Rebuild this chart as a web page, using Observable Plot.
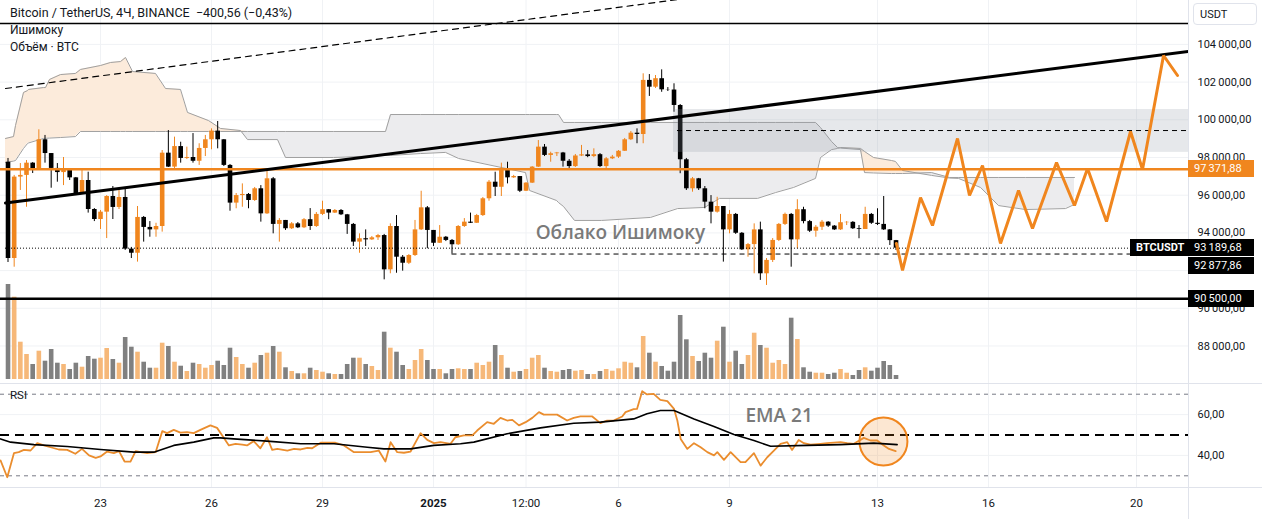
<!DOCTYPE html>
<html><head><meta charset="utf-8">
<script src="https://cdn.jsdelivr.net/npm/d3@7"></script>
<script src="https://cdn.jsdelivr.net/npm/@observablehq/plot@0.6"></script>
<style>
body{margin:0;background:#fff;}
#wrap{position:relative;width:1262px;height:519px;overflow:hidden;background:#fff;font-family:Roboto,"Liberation Sans",sans-serif;color:#131722;}
#wrap svg{position:absolute;left:0;}
.t{position:absolute;white-space:pre;line-height:16px;}
.box{position:absolute;height:17px;line-height:17px;font-size:11px;color:#fff;padding-left:6px;box-sizing:border-box;white-space:pre;}
.sep{position:absolute;background:#e0e3eb;}
</style></head>
<body><div id="wrap"></div>
<script>
// ---------- axes ----------
const xDomain = [0.297, 32.405];           // days since 20 Dec 2024 00:00
const xTickDays = [3, 6, 9, 12, 14.5, 17, 20, 24, 27, 31];
const xTickLabels = ["23", "26", "29", "2025", "12:00", "6", "9", "13", "16", "20"];
const priceTicks = [88000, 90000, 92000, 94000, 96000, 98000, 100000, 102000, 104000];
const priceTickLabelsShown = [88000, 90000, 94000, 96000, 98000, 100000, 102000, 104000];
const rsiTicks = [40, 60];
const priceDomain = [86010, 106329];
const rsiDomain = [24.27, 75.25];

// ---------- candles (4h, starting 20 Dec 12:00) ----------
const barStartDay = 0.5, barHours = 4;
const firstOpen = 97750;
const closeP = [92640,96960,97050,97700,97360,98940,98210,97420,97200,97310,
96920,96090,96780,95240,94710,95100,95930,95350,95880,93140,
92920,94820,94290,94160,94340,98230,97490,98580,97950,98000,
97800,98480,98940,99400,98940,97580,95580,95980,96040,95720,
96340,95010,96870,94450,94660,94220,94480,94270,94700,94340,
94980,95230,95050,95190,94960,94450,93510,93690,93630,93740,
93860,92040,94340,92710,92390,92800,94160,95330,94130,93450,
93770,93600,93370,94340,94570,94510,94920,95810,96690,96420,
97310,96920,96990,96210,96640,97490,98550,98110,98200,98240,
97800,97520,98080,98140,98050,98150,97520,97930,98020,98330,
98940,99290,99220,102090,101730,102180,101590,101580,100760,97880,
96340,96870,96340,95630,95100,95400,94160,94980,93980,93100,
93380,94160,91830,92540,93600,94450,94980,93630,95230,94600,
94090,94300,94570,94360,94160,94540,94560,94220,94180,94980,
94510,94450,94160,93590,93189.68];
const highP = [97950,97050,97680,97840,97730,99470,99170,98210,97680,98000,
97310,96940,97310,97220,95290,95190,95980,96460,96300,96300,
93230,95400,94870,94600,94510,98370,99430,99080,98810,98550,
99270,98730,99170,99520,99910,98950,97630,96090,96600,96090,
96410,96510,97400,96940,94760,94660,94550,94550,94760,95290,
95080,95680,95240,95240,95240,94980,94500,93950,94160,93810,
93920,93920,94480,94920,92800,92850,94660,96210,95400,94130,
94390,93810,93650,94390,94760,95050,94980,95880,96780,97220,
97700,97750,97050,96990,96670,97520,98900,98690,98280,98270,
98270,97890,98160,98640,98370,98460,98210,98000,98110,98370,
99010,99380,99520,102440,102400,102350,102650,101710,101910,100810,
97950,96940,96890,96460,95980,95890,95400,95190,95030,94020,
93440,94480,94570,92640,93700,94500,95050,95030,95760,95360,
94660,94390,94660,94600,94390,94980,94600,94600,94390,95360,
95030,95280,95930,94180,93600];
const lowP = [92430,92180,96250,95360,97150,97310,97700,96370,96690,96510,
96780,95980,96090,95050,94600,94180,93700,94710,95240,93070,
92640,92450,93510,93770,93770,94040,97470,97310,97700,97890,
97700,97580,98050,98410,98460,97520,95150,95280,95360,95280,
95670,94570,94980,93950,93510,94130,94180,94230,94230,94130,
94290,94920,94700,95030,94920,93920,93280,92920,93280,93600,
93600,91510,91830,91860,91970,92320,92750,94130,93160,93280,
93440,93540,92877.86,93330,94290,94500,94500,94870,95680,95930,
95930,96600,96890,96140,96200,96620,97470,98050,97750,98050,
97490,97420,97470,98050,97990,97990,97470,97310,97890,97950,
98320,98900,98730,98730,101240,101660,101460,101500,100400,97140,
96250,96160,96250,95280,94480,95050,92450,93950,93920,93070,
92710,91830,91480,91210,92430,93540,94390,92180,93160,94480,
94020,93770,94130,94290,94130,94130,94390,94180,93690,94180,
94450,94390,94130,93330,93070];
const volumeBTC = [9500,8230,3730,2500,1500,2830,1830,3000,1630,1500,
1000,1630,1230,2300,2030,2130,3100,2000,1630,4200,
3230,2730,1730,1130,1130,3630,3300,1730,1330,800,
1630,1500,1130,1400,1830,1400,3130,2200,1500,1130,
1630,2400,2630,3300,2730,1170,800,570,570,1130,
900,730,570,500,500,1500,2130,2130,1500,1300,
900,4730,3130,2730,1400,1000,1900,3000,1900,1000,
1000,570,1000,1070,1000,1000,1630,1400,1730,3400,
2400,1130,730,800,1000,2130,2400,1130,800,730,
900,1000,830,900,500,500,800,1000,830,1070,
1730,1630,1170,4300,2630,1730,1300,830,1730,6400,
3970,2300,1800,2630,2130,3830,5230,1730,2830,1500,
2400,4630,3400,3130,1630,1900,1500,6130,4000,1170,
730,630,630,500,630,1000,630,400,900,1170,
830,1130,1800,1400,400];

// ---------- Ichimoku cloud (leading spans) ----------
const cloudDay = [0.432,0.649,0.703,0.919,1.027,1.054,1.459,1.514,1.622,1.919,2.324,2.459,3.0,3.270,3.541,3.676,3.865,4.486,4.757,5.162,5.351,5.919,6.243,6.784,6.973,7.784,8.0,9.297,10.703,10.838,11.649,12.324,12.676,14.486,14.595,15.324,15.378,15.514,15.811,16.541,17.865,18.595,19.324,19.730,20.757,21.243,21.730,22.324,22.459,22.757,22.919,23.0,23.541,23.649,23.892,24.378,24.486,24.676,25.459,25.946,26.189,26.784,27.270,28.0,29.081,29.324];
const spanA = [99010,99110,99700,101450,101550,101610,101710,101710,102140,102400,102460,102670,102880,103040,103090,103305,102560,102460,101660,101610,100390,99960,99540,99430,98950,98950,98000,98000,98110,98110,98210,98270,97950,97200,96250,95720,95610,95400,94660,94660,94820,95290,95350,95830,95830,96140,96410,96890,98000,98420,98480,98530,98480,98320,98000,97840,97790,97310,97050,96910,96890,96410,95450,95240,95290,95510];
const spanB = [97730,97810,97840,98480,98740,98770,99010,99020,99030,99060,99110,99380,99380,99380,99380,99380,99380,99380,99380,99380,99380,99380,99380,99380,99380,99380,99380,99380,99380,100280,100280,100280,100280,100280,100280,100280,100280,99860,99860,99860,99860,99860,99860,99860,99860,99860,99860,99860,99590,98850,98530,98500,98420,97200,97180,97150,97150,97150,97200,96940,96940,96940,96940,96940,96940,96940];

// ---------- drawings ----------
const levelOrange = 97371.88, levelBlack = 90500, lastPrice = 93189.68, lastLow = 92877.86, topLevel = 105110;
const lastLowStartDay = 12.5;
const zoneDays = [18.486, 32.405], zonePrices = [98270, 100546], zoneMid = 99430, zoneMidStartDay = 18.595;
const trendDay = [0.432, 32.405], trendPrice = [95586, 103623];
const dashTrendDay = [0.432, 18.946], dashTrendPrice = [101660, 106470];
const zigDay = [24.51,24.676,25.162,25.486,26.162,26.486,26.838,27.324,27.811,28.189,28.838,29.324,29.676,30.189,30.838,31.162,31.730,32.108];
const zigPrice = [93440,92005,95878,94393,99008,95984,97576,93438,96249,94233,97735,95454,97416,94605,99379,97363,103411,102350];
const cloudLabel = {day: 14.76, price: 94021, text: "Облако Ишимоку"};

// ---------- RSI ----------
const rsiDay = [0.30,0.48,0.66,0.79,0.93,1.11,1.29,1.47,1.65,1.87,2.10,2.32,2.50,2.69,2.87,3.00,3.18,3.36,3.50,3.65,3.81,3.95,4.08,4.26,4.49,4.67,4.80,4.98,5.16,5.34,5.52,5.70,5.97,6.15,6.29,6.47,6.65,6.83,6.96,7.14,7.32,7.50,7.64,7.78,8.05,8.23,8.41,8.59,8.72,8.95,9.17,9.35,9.58,9.85,10.12,10.30,10.52,10.70,10.84,11.02,11.20,11.38,11.65,11.83,12.01,12.19,
12.46,12.59,12.82,13.05,13.18,13.45,13.63,13.81,13.99,14.13,14.31,14.49,14.67,14.85,14.98,15.16,15.34,15.61,15.79,15.97,16.29,16.51,16.69,16.87,17.10,17.19,17.41,17.50,17.64,17.77,17.95,18.13,18.32,18.50,18.59,18.68,18.86,19.04,19.22,19.40,19.58,19.67,19.85,20.03,20.30,20.43,20.66,20.84,21.02,21.20,21.38,21.56,21.69,21.87,22.01,22.19,22.46,22.64,23.00,23.18,23.36,23.63,23.81,23.99,24.17,24.31,24.49];
const rsiVal = [37.5,29.3,41.1,41.6,42.7,42.4,46.0,44.9,44.0,42.9,42.7,40.8,43.2,40.0,38.8,39.5,41.9,41.1,42.1,37.0,37.0,42.1,41.6,41.1,41.6,51.9,50.9,52.5,51.2,51.4,50.9,52.5,54.7,53.5,49.8,44.9,45.7,45.3,44.9,47.0,43.5,48.9,42.7,43.2,42.4,43.2,42.9,43.7,43.5,46.2,46.2,46.2,44.9,41.6,41.6,41.6,42.4,37.0,46.5,41.6,41.3,41.9,50.9,47.6,46.0,46.5,
45.7,48.9,49.8,49.8,52.2,56.3,55.5,58.4,57.1,57.4,54.7,56.3,58.4,61.2,60.0,60.0,60.0,57.1,58.4,59.1,59.1,55.8,57.1,57.1,59.1,61.2,62.7,62.8,71.5,69.9,70.2,67.2,66.6,62.8,57.1,48.1,43.2,46.0,44.0,41.6,40.0,41.6,37.8,41.6,36.7,36.7,41.1,35.0,39.1,42.4,45.7,46.5,42.7,47.6,46.0,45.3,45.7,46.0,46.5,46.0,45.7,48.6,47.3,47.3,44.9,43.2,42.1];
const emaDay = [0.30,0.57,1.20,2.10,3.00,3.90,4.44,4.98,5.52,6.06,6.24,6.60,7.50,8.41,9.31,10.21,10.66,11.38,12.01,12.73,13.09,13.99,14.89,15.79,16.51,17.41,17.77,18.13,18.50,19.04,19.58,20.12,20.66,21.11,22.10,23.00,23.90,24.53];
const emaVal = [48.1,46.5,45.3,44.4,42.9,41.6,41.6,44.9,46.5,48.6,48.6,48.1,47.0,45.7,45.7,44.0,43.2,43.2,44.9,45.7,46.5,50.6,53.5,55.8,56.3,57.9,60.4,62.0,62.0,57.9,54.2,50.2,47.3,44.5,44.9,45.3,46.0,45.3];
const rsiLevels = [30, 50, 70];
const circleMark = {day: 24.16, rsi: 46.8};
const emaLabel = {day: 20.43, rsi: 59.6, text: "EMA 21"};

// ---------- styles ----------
const ORANGE = "#f0861e", VOL_ORANGE = "#f6b879", VOL_GRAY = "#808080", GRID = "#f0f2f5";
const W = 1262, MR = 74, PRICE_H = 383, RSI_TOP = 383, RSI_H = 104, AX_TOP = 487, AX_H = 32;
const FONT = "Roboto, 'Liberation Sans', sans-serif";

const loc = d3.formatLocale({decimal: ",", thousands: "\u2009", grouping: [3], currency: ["", ""]});
const fmt = loc.format(",.2f");

const bars = closeP.map((c, i) => ({
  x: barStartDay + i * barHours / 24,
  o: i ? closeP[i - 1] : firstOpen, c, h: highP[i], l: lowP[i], v: volumeBTC[i]
}));
bars.forEach(b => { b.up = b.c >= b.o; });
const cloud = cloudDay.map((d, i) => ({d, a: spanA[i], b: spanB[i]}));
const zig = zigDay.map((d, i) => ({d, p: zigPrice[i]}));
const rsi = rsiDay.map((d, i) => ({d, r: rsiVal[i]}));
const ema = emaDay.map((d, i) => ({d, r: emaVal[i]}));

const wrap = document.getElementById("wrap");
function place(svg, top) {
  svg.style.position = "absolute"; svg.style.top = top + "px"; svg.style.left = "0px";
  svg.style.background = "transparent"; svg.style.maxWidth = "none";
  wrap.appendChild(svg);
  return svg;
}
const base = {width: W, marginLeft: 0, marginRight: MR, marginTop: 0, marginBottom: 0,
  style: {fontFamily: FONT, fontSize: "11px", color: "#131722", background: "transparent"}};

// layer 1: grid for price pane
place(Plot.plot({...base, height: PRICE_H,
  x: {domain: xDomain, axis: null}, y: {domain: priceDomain, axis: null},
  marks: [
    Plot.ruleX(xTickDays, {stroke: GRID}),
    Plot.ruleY(priceTicks, {stroke: GRID})
  ]}), 0);

// layer 2: volume
place(Plot.plot({...base, height: PRICE_H, marginTop: 284, marginBottom: 4,
  x: {domain: xDomain, axis: null}, y: {domain: [0, 9500], axis: null},
  marks: [
    Plot.ruleX(bars, {x: "x", y1: 0, y2: "v", stroke: d => d.up ? VOL_ORANGE : VOL_GRAY, strokeWidth: 4.6})
  ]}), 0);

// layer 3: price
const pricePlot = place(Plot.plot({...base, height: PRICE_H,
  x: {domain: xDomain, axis: null},
  y: {domain: priceDomain, axis: "right", ticks: priceTickLabelsShown, tickFormat: fmt, tickSize: 0, tickPadding: 9, label: null},
  marks: [
    Plot.areaY(cloud, {x: "d", y1: "b", y2: d => Math.max(d.a, d.b), fill: "#fcebdb", curve: "linear"}),
    Plot.areaY(cloud, {x: "d", y1: d => Math.min(d.a, d.b), y2: "b", fill: "#ececee", curve: "linear"}),
    Plot.line(cloud, {x: "d", y: "a", stroke: "#a0a0a0", strokeWidth: 1}),
    Plot.line(cloud, {x: "d", y: "b", stroke: "#a0a0a0", strokeWidth: 1}),
    Plot.ruleX(bars, {x: "x", y1: "l", y2: "h", stroke: d => d.up ? ORANGE : "#000", strokeWidth: 1}),
    Plot.ruleX(bars, {x: "x", y1: "o", y2: "c", stroke: d => d.up ? ORANGE : "#000", strokeWidth: 4.6}),
    Plot.rect([{}], {x1: zoneDays[0], x2: zoneDays[1], y1: zonePrices[0], y2: zonePrices[1], fill: "#8c94a6", fillOpacity: 0.22}),
    Plot.ruleY([zoneMid], {x1: zoneMidStartDay, x2: xDomain[1], stroke: "#000", strokeWidth: 1, strokeDasharray: "5,4"}),
    Plot.ruleY([lastPrice], {x1: cloudDay[0], x2: xDomain[1], stroke: "#000", strokeWidth: 1, strokeDasharray: "1,2"}),
    Plot.ruleY([lastLow], {x1: lastLowStartDay, x2: xDomain[1], stroke: "#000", strokeWidth: 1, strokeDasharray: "5,4"}),
    Plot.ruleY([topLevel], {stroke: "#000", strokeWidth: 1.5}),
    Plot.line(dashTrendDay.map((d, i) => ({d, p: dashTrendPrice[i]})), {x: "d", y: "p", stroke: "#000", strokeWidth: 1.2, strokeDasharray: "6,5", clip: true}),
    Plot.ruleY([levelOrange], {stroke: ORANGE, strokeWidth: 2.5}),
    Plot.ruleY([levelBlack], {stroke: "#000", strokeWidth: 2.5}),
    Plot.line(trendDay.map((d, i) => ({d, p: trendPrice[i]})), {x: "d", y: "p", stroke: "#000", strokeWidth: 3, clip: true}),
    Plot.line(zig, {x: "d", y: "p", stroke: ORANGE, strokeWidth: 3, strokeLinejoin: "miter", clip: true}),
    Plot.text([cloudLabel], {x: "day", y: "price", text: "text", textAnchor: "start", fontSize: 19, fontWeight: 600, fill: "#7a7a7a", fontFamily: "'Open Sans', sans-serif"})
  ]}), 0);

// RSI pane
place(Plot.plot({...base, height: RSI_H,
  x: {domain: xDomain, axis: null},
  y: {domain: rsiDomain, axis: "right", ticks: rsiTicks, tickFormat: fmt, tickSize: 0, tickPadding: 9, label: null},
  marks: [
    Plot.ruleX(xTickDays, {stroke: GRID}),
    Plot.ruleY(rsiTicks, {stroke: GRID}),
    Plot.ruleY([rsiLevels[0], rsiLevels[2]], {x1: xDomain[0], x2: xDomain[1], stroke: "#787b86", strokeWidth: 1, strokeDasharray: "4,4"}),
    Plot.ruleY([rsiLevels[1]], {x1: xDomain[0], x2: xDomain[1], stroke: "#000", strokeWidth: 2, strokeDasharray: "9,6"}),
    Plot.dot([circleMark], {x: "day", y: "rsi", r: 24, fill: ORANGE, fillOpacity: 0.2, stroke: ORANGE, strokeWidth: 2}),
    Plot.line(rsi, {x: "d", y: "r", stroke: "#ea8d2e", strokeWidth: 1.8}),
    Plot.line(ema, {x: "d", y: "r", stroke: "#000", strokeWidth: 1.6}),
    Plot.text([emaLabel], {x: "day", y: "rsi", text: "text", textAnchor: "start", fontSize: 19, fontWeight: 600, fill: "#7a7a7a", fontFamily: "'Open Sans', sans-serif"})
  ]}), RSI_TOP);

// time axis
place(Plot.plot({...base, height: AX_H,
  x: {domain: xDomain, axis: null},
  marks: [
    Plot.text(xTickDays.map((d, i) => ({d, t: xTickLabels[i]})).filter(d => d.t !== "2025"), {x: "d", text: "t", frameAnchor: "middle", fontSize: 11.5, fill: "#131722"}),
    Plot.text(xTickDays.map((d, i) => ({d, t: xTickLabels[i]})).filter(d => d.t === "2025"), {x: "d", text: "t", frameAnchor: "middle", fontSize: 11.5, fontWeight: 700, fill: "#131722"})
  ]}), AX_TOP);

// separators
function sep(l, t, w, h) { const d = document.createElement("div"); d.className = "sep"; Object.assign(d.style, {left: l + "px", top: t + "px", width: w + "px", height: h + "px"}); wrap.appendChild(d); }
sep(0, RSI_TOP, W, 1); sep(0, AX_TOP, W, 1); sep(W - MR, 0, 1, 519);

// texts
function txt(s, l, t, size, extra) { const d = document.createElement("div"); d.className = "t"; d.textContent = s; Object.assign(d.style, {left: l + "px", top: t + "px", fontSize: size + "px"}, extra || {}); wrap.appendChild(d); return d; }
txt("Bitcoin / TetherUS, 4Ч, BINANCE  −400,56 (−0,43%)", 10, 5, 12.5);
txt("Ишимоку", 10, 22, 12);
txt("Объём · BTC", 10, 39, 12);
txt("RSI", 10, 387, 11.5);
const usdt = txt("USDT", 1193, 3, 11);
Object.assign(usdt.style, {width: "64px", height: "22px", lineHeight: "22px", paddingLeft: "6px", boxSizing: "border-box", border: "1px solid #e0e3eb", borderRadius: "4px", background: "#fff"});

// price labels on the axis (positions from the library's y scale)
const yS = pricePlot.scale("y");
function box(text, yc, bg, left, width, bold) {
  const d = document.createElement("div"); d.className = "box"; d.textContent = text;
  Object.assign(d.style, {left: left + "px", top: (yc - 8.5) + "px", width: width + "px", background: bg, fontWeight: bold ? "700" : "400"});
  wrap.appendChild(d);
}
const yLast = yS.apply(lastPrice);
const yLow = Math.max(yS.apply(lastLow), yLast + 18);
box(fmt(levelOrange), yS.apply(levelOrange), ORANGE, W - MR, 66);
box(fmt(lastPrice), yLast, "#000", W - MR, 66);
box(fmt(lastLow), yLow, "#000", W - MR, 66);
box(fmt(levelBlack), yS.apply(levelBlack), "#000", W - MR, 66);
box("BTCUSDT", yLast, "#000", W - MR - 58, 58, true);
</script></body></html>
